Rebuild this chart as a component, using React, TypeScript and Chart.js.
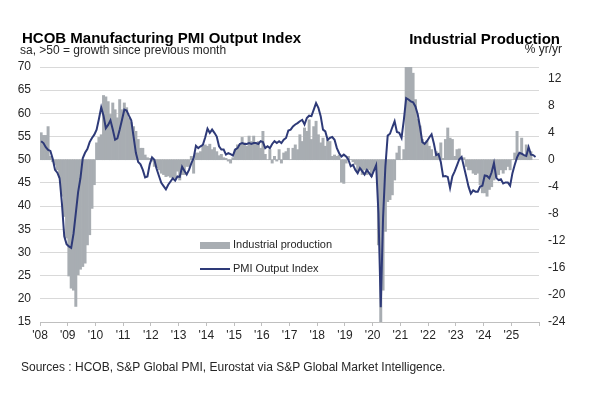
import React, { useEffect, useRef } from "react";
import { Chart, registerables } from "chart.js";

Chart.register(...registerables);

// ---- DATA ----
const yearLabels = ["'08", "'09", "'10", "'11", "'12", "'13", "'14", "'15", "'16", "'17", "'18", "'19", "'20", "'21", "'22", "'23", "'24", "'25"];

// HCOB Manufacturing PMI Output Index, monthly from Jan 2008
const pmiOutput = [
  54.0, 53.6, 52.7, 52.1, 51.9, 50.2, 47.8, 47.2, 46.0, 40.5, 33.5, 31.8, // 2008
  31.3, 31.0, 34.0, 38.5, 43.0, 46.0, 50.3, 51.5, 52.3, 53.8, 54.7, 55.4, // 2009
  56.5, 58.8, 61.3, 59.5, 56.8, 57.5, 58.5, 56.5, 54.3, 54.6, 56.5, 58.6, // 2010
  60.8, 60.6, 59.5, 58.5, 55.0, 51.5, 49.5, 49.0, 47.8, 46.2, 46.4, 49.0, // 2011
  50.5, 50.0, 48.0, 46.5, 45.0, 44.3, 43.6, 44.6, 45.3, 46.0, 45.5, 46.4, // 2012
  46.3, 48.5, 47.6, 46.8, 47.8, 49.2, 50.4, 53.0, 52.5, 52.9, 53.2, 54.8, // 2013
  56.7, 55.8, 56.5, 55.8, 55.0, 52.9, 52.2, 52.2, 51.1, 51.4, 51.2, 50.9, // 2014
  52.2, 52.5, 53.4, 53.6, 53.4, 53.4, 53.6, 53.4, 53.6, 53.6, 53.4, 54.0, // 2015
  53.8, 52.5, 52.9, 52.5, 53.4, 54.0, 53.6, 54.0, 53.6, 54.3, 54.7, 56.3, // 2016
  56.5, 57.2, 57.6, 57.9, 58.3, 58.6, 57.6, 59.0, 59.5, 59.4, 60.8, 62.2, // 2017
  61.2, 59.4, 56.5, 56.1, 54.3, 54.7, 54.9, 54.3, 52.5, 51.4, 50.7, 51.1, // 2018
  50.7, 50.0, 48.6, 48.9, 47.8, 47.1, 48.2, 47.5, 46.8, 47.8, 47.1, 46.4, // 2019
  47.6, 48.8, 38.5, 18.2, 37.5, 48.5, 55.2, 55.6, 57.0, 58.3, 56.0, 55.8, // 2020
  54.7, 58.6, 63.3, 63.0, 62.6, 62.4, 61.5, 59.8, 57.0, 53.8, 53.4, 54.0, // 2021
  54.8, 55.5, 53.5, 51.0, 51.2, 49.5, 46.4, 46.5, 46.3, 43.9, 46.4, 47.5, // 2022
  48.8, 50.1, 50.6, 48.5, 46.4, 44.2, 42.7, 43.4, 43.1, 43.1, 44.2, 44.4, // 2023
  46.6, 46.5, 46.0, 47.3, 49.3, 46.1, 45.6, 45.8, 44.9, 45.1, 45.1, 44.4, // 2024
  47.1, 48.9, 50.5, 51.5, 51.3, 51.0, 50.8, 52.7, 51.1, 51.0, 50.6,       // 2025
];

// Industrial production, % yr/yr, monthly from Jan 2008
const industrialProduction = [
  4.0, 3.6, 3.6, 4.9, 0.5, -0.3, -0.8, -1.5, -2.6, -5.4, -8.4, -11.6, // 2008
  -17.2, -19.0, -19.3, -21.7, -17.0, -16.2, -15.8, -15.3, -12.6, -11.1, -7.2, -3.7, // 2009
  2.5, 3.3, 3.7, 9.5, 9.3, 8.6, 6.7, 8.4, 7.4, 6.2, 8.9, 7.4, // 2010
  8.4, 7.7, 6.2, 5.5, 4.9, 4.2, 3.0, 1.7, 1.7, 0.7, 0.3, 0.2, // 2011
  -0.2, -1.0, -1.2, -1.5, -2.0, -2.2, -2.5, -2.4, -2.6, -2.7, -2.7, -1.7, // 2012
  -3.0, -2.2, -2.2, -1.0, -1.0, 0.5, -2.0, 1.0, 1.0, 1.2, 2.0, 2.2, // 2013
  2.0, 2.3, 1.5, 1.8, 1.2, 0.6, 0.8, 0.3, 0.2, -0.2, -0.5, 0.3, // 2014
  1.5, 2.2, 2.2, 3.3, 2.5, 2.0, 3.5, 2.7, 3.5, 2.4, 2.7, 1.7, // 2015
  4.2, 0.8, 0.0, 1.5, -0.5, 0.5, -0.2, 1.5, -0.5, 1.0, 1.2, 1.7, // 2016
  0.0, 1.7, 2.2, 1.5, 3.7, 2.7, 4.7, 4.2, 5.9, 3.0, 4.9, 5.7, // 2017
  3.7, 2.5, 3.2, 2.0, 3.0, 2.7, 0.5, 0.7, 0.5, 0.7, -3.3, -3.5, // 2018
  -0.5, 0.5, 0.0, -0.3, -0.7, -1.7, -1.0, -2.2, -1.5, -2.2, -1.5, -2.5, // 2019
  -1.5, -1.0, -12.6, -28.0, -19.3, -10.6, -6.2, -5.9, -5.2, -3.0, 1.0, 2.0, // 2020
  0.0, 1.5, 14.5, 39.0, 20.5, 12.8, 8.9, 6.0, 5.0, 3.0, 2.5, 2.8, // 2021
  2.0, 1.5, 0.5, 1.2, 1.0, 2.5, 0.2, 3.0, 4.7, 3.2, 3.0, 0.5, // 2022
  1.5, 1.6, 0.0, 0.3, -1.0, -1.5, -1.5, -2.0, -2.2, -2.0, -3.7, -4.9, // 2023
  -4.9, -5.4, -4.4, -4.0, -3.0, -2.5, -2.2, -1.5, -2.0, -1.5, -1.0, -1.5, // 2024
  0.0, 1.0, 4.2, 0.8, 3.2, 0.5, 2.2, 1.7, 1.2, // 2025
];

const leftMin = 15;
const leftMax = 70;
const leftStep = 5;
const rightTicks = [-24, -20, -16, -12, -8, -4, 0, 4, 8, 12];
const pivotLeft = 50; // PMI 50 aligned with 0% on right axis

const FONT = "'Liberation Sans', Arial, Helvetica, sans-serif";
const TEXT = "#262626";
const BAR = "#a8adb2";
const LINE = "#2e3a78";

export default function App() {
  const canvasRef = useRef<HTMLCanvasElement | null>(null);

  useEffect(() => {
    const canvas = canvasRef.current;
    if (!canvas) return;
    const rightMin = rightTicks[0];
    const rightMax = ((leftMax - pivotLeft) * (0 - rightMin)) / (pivotLeft - leftMin);
    const yearTicks: number[] = [];
    for (let m = 0; m <= yearLabels.length * 12; m += 12) yearTicks.push(m);

    const chart = new Chart(canvas, {
      type: "bar",
      data: {
        datasets: [
          {
            type: "line",
            label: "PMI Output Index",
            data: pmiOutput.map((v, i) => ({ x: i + 0.5, y: v })),
            xAxisID: "x",
            yAxisID: "y",
            borderColor: LINE,
            borderWidth: 2,
            pointRadius: 0,
            tension: 0,
            order: 0,
          } as any,
          {
            type: "bar",
            label: "Industrial production",
            data: industrialProduction.map((v, i) => ({ x: i + 0.5, y: v })),
            xAxisID: "x",
            yAxisID: "y1",
            backgroundColor: BAR,
            borderWidth: 0,
            barPercentage: 1,
            categoryPercentage: 1,
            order: 1,
          } as any,
        ],
      },
      options: {
        responsive: false,
        animation: false,
        layout: { padding: { top: 67, left: 0, right: 0, bottom: 0 } },
        plugins: { legend: { display: false }, tooltip: { enabled: false }, title: { display: false } },
        scales: {
          x: {
            type: "linear",
            offset: false,
            min: 0,
            max: yearLabels.length * 12,
            afterBuildTicks: (s: any) => {
              s.ticks = yearTicks.map((v) => ({ value: v }));
            },
            afterFit: (s: any) => {
              s.height = 74;
            },
            ticks: {
              autoSkip: false,
              maxRotation: 0,
              padding: 2,
              color: TEXT,
              font: { family: FONT, size: 12 },
              callback: (v: any) => yearLabels[Math.round(Number(v) / 12)] ?? "",
            },
            grid: { drawOnChartArea: false, drawTicks: true, tickLength: 4, color: "#bfbfbf", offset: false },
            border: { display: true, color: "#bfbfbf", width: 1 },
          },
          y: {
            position: "left",
            min: leftMin,
            max: leftMax,
            ticks: { stepSize: leftStep, padding: 9, color: TEXT, font: { family: FONT, size: 12 } },
            grid: { color: "#d9d9d9", drawTicks: false, lineWidth: 1 },
            border: { display: false },
            afterFit: (s: any) => {
              s.width = 40;
            },
          },
          y1: {
            position: "right",
            min: rightMin,
            max: rightMax,
            afterBuildTicks: (s: any) => {
              s.ticks = rightTicks.map((v) => ({ value: v }));
            },
            ticks: { padding: 9, color: TEXT, font: { family: FONT, size: 12 } },
            grid: { display: false, drawTicks: false },
            border: { display: false },
            afterFit: (s: any) => {
              s.width = 62;
            },
          },
        },
      },
    });
    return () => chart.destroy();
  }, []);

  const abs = (style: React.CSSProperties): React.CSSProperties => ({
    position: "absolute",
    fontFamily: FONT,
    color: "#000",
    whiteSpace: "nowrap",
    ...style,
  });

  return (
    <div style={{ position: "fixed", left: 0, top: 0, width: 601, height: 396, background: "#fff", overflow: "hidden" }}>
      <canvas ref={canvasRef} width={601} height={396} style={{ position: "absolute", left: 0, top: 0, width: 601, height: 396 }} />
      <div style={abs({ left: 22, top: 30, fontSize: 15, lineHeight: "15px", fontWeight: "bold" })}>HCOB Manufacturing PMI Output Index</div>
      <div style={abs({ left: 20, top: 44, fontSize: 12, lineHeight: "12px", color: "#262626" })}>sa, &gt;50 = growth since previous month</div>
      <div style={abs({ right: 41, top: 31, fontSize: 15, lineHeight: "15px", fontWeight: "bold" })}>Industrial Production</div>
      <div style={abs({ right: 39, top: 43, fontSize: 12, lineHeight: "12px", color: "#262626" })}>% yr/yr</div>
      <div style={abs({ left: 200, top: 242, width: 30, height: 7, background: BAR })} />
      <div style={abs({ left: 233, top: 239, fontSize: 11, lineHeight: "11px", color: "#262626" })}>Industrial production</div>
      <div style={abs({ left: 200, top: 268, width: 30, height: 2, background: LINE })} />
      <div style={abs({ left: 233, top: 263, fontSize: 11, lineHeight: "11px", color: "#262626" })}>PMI Output Index</div>
      <div style={abs({ left: 21, top: 361, fontSize: 12, lineHeight: "12px", color: "#262626" })}>
        Sources : HCOB, S&amp;P Global PMI, Eurostat via S&amp;P Global Market Intelligence.
      </div>
    </div>
  );
}
